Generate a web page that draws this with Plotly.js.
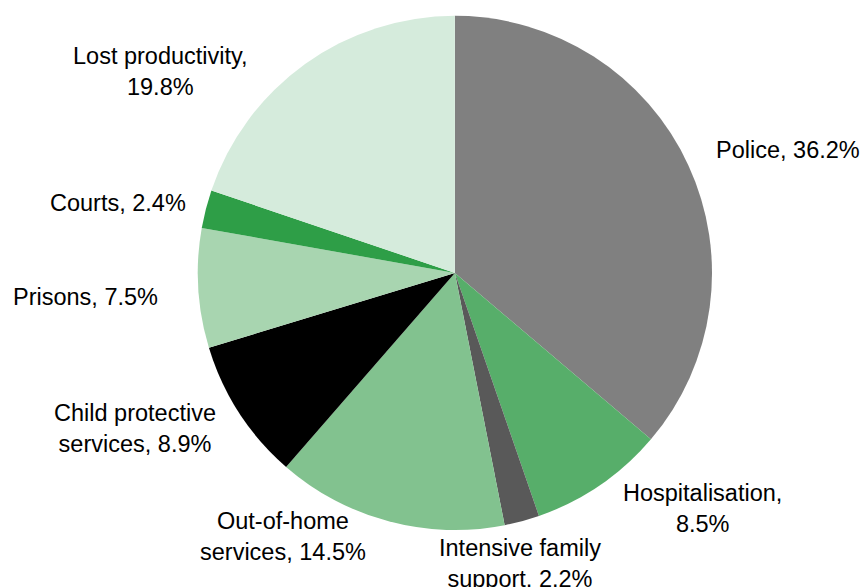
<!DOCTYPE html>
<html>
<head>
<meta charset="utf-8">
<script src="https://cdn.plot.ly/plotly-3.0.1.min.js"></script>
<style>html,body{margin:0;padding:0;background:#fff;}#chart{width:864px;height:587px;}</style>
</head>
<body>
<div id="chart"></div>
<script>
const categories = ["Police", "Hospitalisation", "Intensive family support", "Out-of-home services", "Child protective services", "Prisons", "Courts", "Lost productivity"];
const values = [36.2, 8.5, 2.2, 14.5, 8.9, 7.5, 2.4, 19.8];
const displayNames = ["Police", "Hospitalisation", "Intensive family<br>support", "Out-of-home<br>services", "Child protective<br>services", "Prisons", "Courts", "Lost productivity"];
const separators = [", ", ",<br>", ", ", ", ", ", ", ", ", ", ", ",<br>"];
const colors = ["#808080", "#57AE6A", "#595959", "#82C28F", "#000000", "#A8D5B0", "#2E9E47", "#D5EBDC"];

// label offsets (px) from the slice's outer-edge midpoint to the label centre
const labelDx = [100, 102, -2, -106, -104, -113, -88, -145];
const labelDy = [-15, 23, 42, 15, 16, 9, -6, 7];

const W = 864, H = 587;
const domX = [0.228, 0.825], domY = [0.097, 0.973];
const texts = displayNames.map((n, i) => n + separators[i] + values[i].toFixed(1) + "%");

const cxPx = W * (domX[0] + domX[1]) / 2;
const cyPx = H * (1 - (domY[0] + domY[1]) / 2);
const Rpx = Math.min(W * (domX[1] - domX[0]), H * (domY[1] - domY[0])) / 2;
const total = values.reduce((a, b) => a + b, 0);

const annotations = [];
let cum = 0;
values.forEach((v, i) => {
  const mid = (cum + v / 2) / total * 2 * Math.PI;
  cum += v;
  const px = cxPx + Rpx * Math.sin(mid);
  const py = cyPx - Rpx * Math.cos(mid);
  annotations.push({
    xref: "paper", yref: "paper",
    x: px / W, y: 1 - py / H,
    xanchor: "center", yanchor: "middle",
    xshift: labelDx[i], yshift: -labelDy[i],
    text: texts[i], showarrow: false, align: "center",
    font: {family: "Liberation Sans, Arial, sans-serif", size: 23.5, color: "#000"}
  });
});

const trace = {
  type: "pie",
  labels: categories,
  values: values,
  textinfo: "none",
  sort: false,
  direction: "clockwise",
  rotation: 0,
  marker: {colors: colors, line: {width: 0}},
  hoverinfo: "none",
  domain: {x: domX, y: domY},
  showlegend: false
};

Plotly.newPlot("chart", [trace], {
  width: W, height: H,
  margin: {l: 0, r: 0, t: 0, b: 0},
  paper_bgcolor: "#fff",
  showlegend: false,
  annotations: annotations
}, {displayModeBar: false, staticPlot: true});
</script>
</body>
</html>
